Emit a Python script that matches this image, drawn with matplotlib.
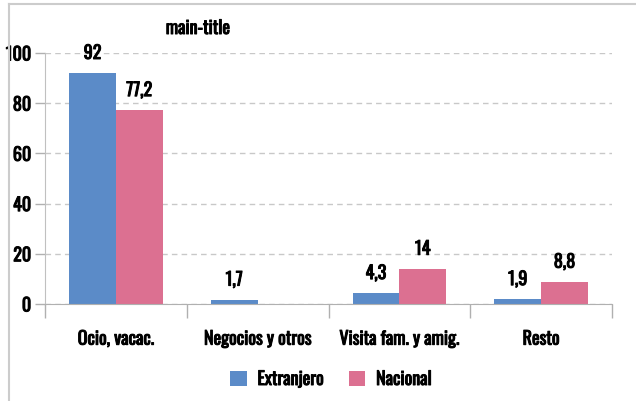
import numpy as np
import matplotlib
matplotlib.use("Agg")
import matplotlib.pyplot as plt
import matplotlib.patheffects as pe
from matplotlib.lines import Line2D

categorias = ["Ocio, vacac.", "Negocios y otros", "Visita fam. y amig.", "Resto"]
extranjero = [92, 1.7, 4.3, 1.9]
nacional = [77.2, np.nan, 14, 8.8]
series = ["Extranjero", "Nacional"]
colores = ["#5b8bc8", "#dc7091"]

plt.rcParams["font.family"] = ["Oswald", "DejaVu Sans"]
plt.rcParams["font.weight"] = "bold"
FS = 13
grueso = [pe.withStroke(linewidth=0.7, foreground="black")]

fig = plt.figure(figsize=(6.36, 4.01), dpi=100)
W, H = 636, 401
ax = fig.add_axes([45 / W, 1 - 304 / H, (612 - 45) / W, (304 - 53) / H])

x = np.arange(len(categorias))
ancho = 0.33
b1 = ax.bar(x - ancho / 2, extranjero, ancho, color=colores[0], label=series[0])
b2 = ax.bar(x + ancho / 2, nacional, ancho, color=colores[1], label=series[1])

def fmt(v):
    return ("%g" % v).replace(".", ",")

for barras, vals in ((b1, extranjero), (b2, nacional)):
    for b, v in zip(barras, vals):
        if np.isnan(v):
            continue
        ax.annotate(fmt(v), (b.get_x() + b.get_width() / 2, v), xytext=(0, 8),
                    textcoords="offset points", ha="center", va="bottom",
                    fontsize=FS, fontweight="bold", path_effects=grueso)

ax.set_xlim(-0.5, len(categorias) - 0.5)
ax.set_ylim(0, 100)
ax.set_yticks(range(0, 101, 20))
ax.yaxis.grid(True, linestyle=(0, (4, 3)), color="#c8c8c8", linewidth=1)
ax.set_axisbelow(True)

ax.set_xticks(x)
ax.set_xticklabels(categorias)
ax.set_xticks(np.arange(-0.5, len(categorias)), minor=True)
ax.tick_params(axis="x", which="major", length=0, pad=18.5, labelsize=FS)
ax.tick_params(axis="x", which="minor", length=10, color="#b0b0b0", width=1)
ax.tick_params(axis="y", length=7, color="#b0b0b0", width=1, pad=3, labelsize=FS)
for t in ax.get_xticklabels() + ax.get_yticklabels():
    t.set_path_effects(grueso)

for s in ("top", "right"):
    ax.spines[s].set_visible(False)
ax.spines["left"].set_color("#c0c0c0")
ax.spines["bottom"].set_color("#b0b0b0")
ax.spines["left"].set_bounds(0, 100)

fig.text(198 / W, 1 - 28 / H, "main-title", ha="center", va="center",
         fontsize=FS, fontweight="bold", path_effects=grueso)

leg = fig.legend(handles=[b1, b2], loc="center", bbox_to_anchor=(331 / W, 1 - 379 / H),
                 ncol=2, frameon=False, fontsize=FS, handlelength=0.9, handleheight=0.9,
                 columnspacing=1.4, handletextpad=0.6)
for t in leg.get_texts():
    t.set_path_effects(grueso)

# marco gris
fig.add_artist(Line2D([9 / W, 9 / W], [0, 1 - 4 / H], transform=fig.transFigure,
                      color="#cccccc", linewidth=1.5))
fig.add_artist(Line2D([9 / W, 1], [1 - 4 / H, 1 - 4 / H], transform=fig.transFigure,
                      color="#cccccc", linewidth=1.5))

fig.savefig("out.png", dpi=100)
